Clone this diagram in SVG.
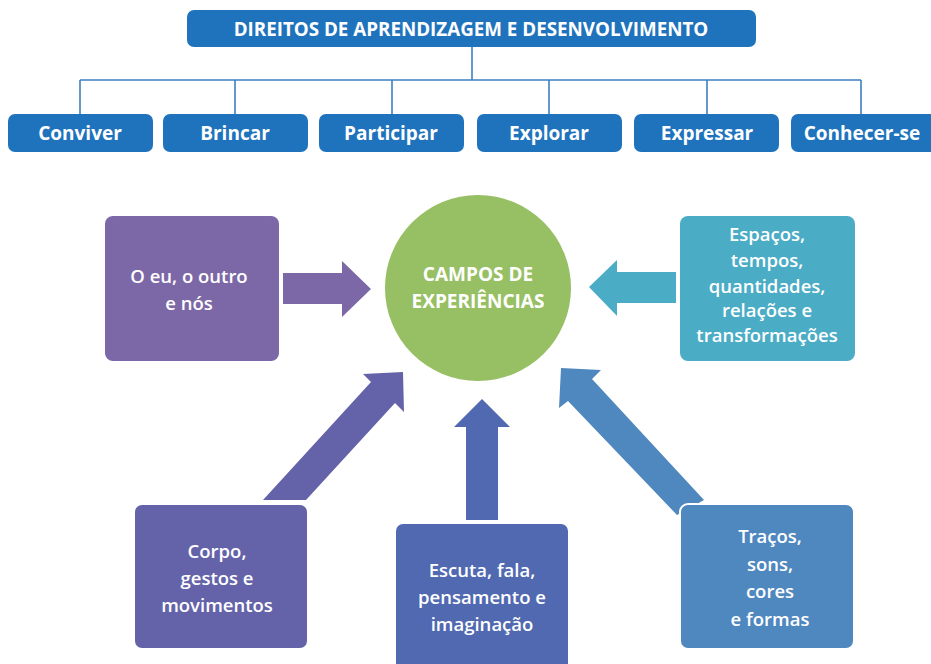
<svg xmlns="http://www.w3.org/2000/svg" width="931" height="664" viewBox="0 0 931 664">
<style>
  .t{font-family:"Open Sans","Noto Sans","Liberation Sans",sans-serif;font-weight:700;fill:#fff;text-anchor:middle}
  .top{font-size:18.8px}
  .lbl{font-size:19px}
  .box{font-size:18.5px;font-weight:600}
  .cir{font-size:19px;font-weight:700}
  .conn{stroke:#3d7fc1;stroke-width:1.6;fill:none}
  .b1{fill:#1f73bd}
</style>
<rect width="931" height="664" fill="#fff"/>
<g id="connectors">
  <path class="conn" d="M472 46V80M80 80H861M80 80V115M235 80V115M392 80V115M549 80V115M707 80V115M861 80V115"/>
  <polygon fill="#7c68a6" points="283,273 342,273 342,261 371,289 342,317 342,304 283,304"/>
  <polygon fill="#4aacc5" points="676,272 617,272 617,260 589,287 617,316 617,303 676,303"/>
  <polygon fill="#6463aa" points="263,500 371,382 363,374 403,372 404,412 395,403 306,500"/>
  <polygon fill="#5169b1" points="466,520 466,427 454,427 482,399 510,427 498,427 498,520"/>
  <polygon fill="#4f87bf" points="704,500 592,379 601,370 561,368 559,408 568,401 677,515"/>
</g>
<g id="direitos">
  <rect class="b1" x="187" y="10" width="569" height="37" rx="7"/>
  <text class="t top" x="471" y="36">DIREITOS DE APRENDIZAGEM E DESENVOLVIMENTO</text>
</g>
<g id="conviver"><rect class="b1" x="8" y="114" width="145" height="38" rx="7"/><text class="t lbl" x="80" y="140">Conviver</text></g>
<g id="brincar"><rect class="b1" x="163" y="114" width="145" height="38" rx="7"/><text class="t lbl" x="235" y="140">Brincar</text></g>
<g id="participar"><rect class="b1" x="319" y="114" width="145" height="38" rx="7"/><text class="t lbl" x="391" y="140">Participar</text></g>
<g id="explorar"><rect class="b1" x="477" y="114" width="145" height="38" rx="7"/><text class="t lbl" x="549" y="140">Explorar</text></g>
<g id="expressar"><rect class="b1" x="634" y="114" width="145" height="38" rx="7"/><text class="t lbl" x="707" y="140">Expressar</text></g>
<g id="conhecer"><rect class="b1" x="791" y="114" width="150" height="38" rx="7"/><text class="t lbl" x="862" y="140">Conhecer-se</text></g>

<g id="campos">
  <circle cx="478" cy="288" r="93" fill="#97bf63"/>
  <text class="t cir" x="478" y="281">CAMPOS DE</text>
  <text class="t cir" x="478" y="308">EXPERIÊNCIAS</text>
</g>
<g id="eu">
  <rect x="105" y="216" width="174" height="145" rx="8" fill="#7c68a6"/>
  <text class="t box" x="189" y="283">O eu, o outro</text>
  <text class="t box" x="189" y="310">e nós</text>
</g>
<g id="espacos">
  <rect x="680" y="216" width="175" height="145" rx="8" fill="#4aacc5"/>
  <text class="t box" x="767" y="241">Espaços,</text>
  <text class="t box" x="767" y="267">tempos,</text>
  <text class="t box" x="767" y="293">quantidades,</text>
  <text class="t box" x="767" y="317">relações e</text>
  <text class="t box" x="767" y="342">transformações</text>
</g>
<g id="corpo">
  <rect x="134" y="504" width="174" height="145" rx="8" fill="#6463aa" stroke="#fff" stroke-width="2"/>
  <text class="t box" x="217" y="558">Corpo,</text>
  <text class="t box" x="217" y="585">gestos e</text>
  <text class="t box" x="217" y="612">movimentos</text>
</g>
<g id="escuta">
  <rect x="395" y="523" width="174" height="150" rx="8" fill="#5169b1" stroke="#fff" stroke-width="2"/>
  <text class="t box" x="482" y="577">Escuta, fala,</text>
  <text class="t box" x="482" y="604">pensamento e</text>
  <text class="t box" x="482" y="631">imaginação</text>
</g>
<g id="tracos">
  <rect x="680" y="504" width="174" height="145" rx="8" fill="#4f87bf" stroke="#fff" stroke-width="2"/>
  <text class="t box" x="770" y="543">Traços,</text>
  <text class="t box" x="770" y="571">sons,</text>
  <text class="t box" x="770" y="598">cores</text>
  <text class="t box" x="770" y="626">e formas</text>
</g>
</svg>
